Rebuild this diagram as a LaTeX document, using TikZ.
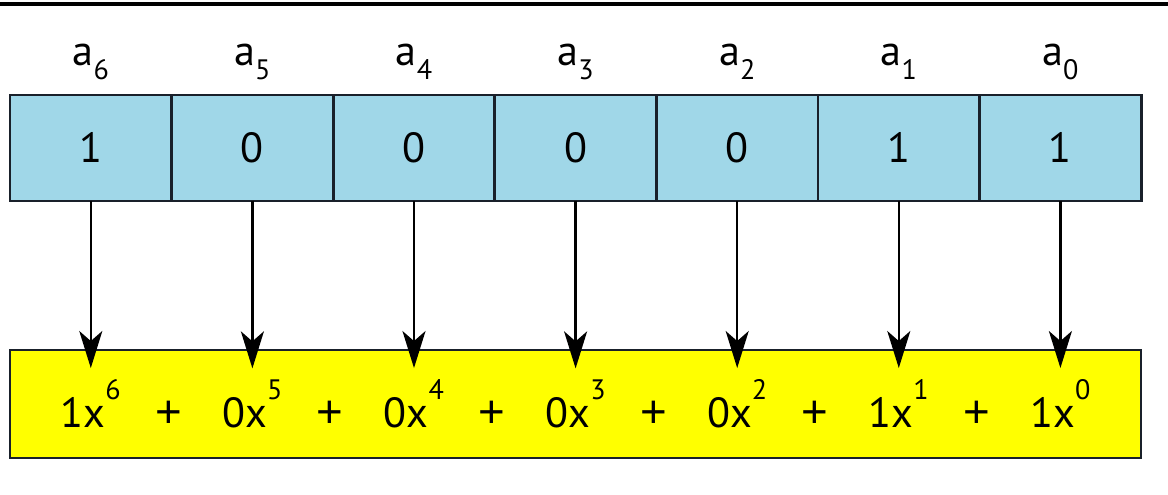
\documentclass[tikz,border=0pt]{standalone}
\usepackage{xcolor}
\usepackage{fontspec}
\setmainfont{PT Sans}
\newfontfamily\plusfont{Liberation Sans}
\usepackage{tikz}
\usetikzlibrary{arrows.meta, positioning}
\definecolor{cellblue}{RGB}{160,215,232}
\definecolor{polyyellow}{RGB}{255,255,0}
\definecolor{edgedark}{RGB}{25,32,42}
\newcommand{\lowidx}[1]{\raisebox{-0.32em}{\fontsize{8}{9}\selectfont #1}}
\newcommand{\highidx}[1]{\raisebox{0.68em}{\fontsize{8}{9}\selectfont #1}}

\begin{document}
\begin{tikzpicture}[>={Stealth[length=3.7mm, width=2.3mm, inset=1mm]},
    font=\fontsize{12}{14}\selectfont,
    bitcell/.style={draw=edgedark, fill=cellblue, line width=0.8pt, minimum width=1.616cm, minimum height=1.06cm, inner sep=0pt, outer sep=0pt},
    coef/.style={anchor=base},
    plus/.style={anchor=base, font=\plusfont\fontsize{13}{15}\selectfont},
    term/.style={anchor=base, inner xsep=0pt, inner ysep=3pt}]
    \useasboundingbox (0,0) rectangle (11.68,-4.95);

    % Top rule
    \draw[line width=1pt] (0,-0.04) -- (11.68,-0.04);

    % Bit cells
    \node[bitcell] (b6) at (0.908,-1.48) {1};
    \node[bitcell, right=0pt of b6] (b5) {0};
    \node[bitcell, right=0pt of b5] (b4) {0};
    \node[bitcell, right=0pt of b4] (b3) {0};
    \node[bitcell, right=0pt of b3] (b2) {0};
    \node[bitcell, right=0pt of b2] (b1) {1};
    \node[bitcell, right=0pt of b1] (b0) {1};

    % Coefficient labels
    \node[coef] (a6) at (b6 |- 0,-0.66) {a\lowidx{6}};
    \node[coef] (a5) at (b5 |- 0,-0.66) {a\lowidx{5}};
    \node[coef] (a4) at (b4 |- 0,-0.66) {a\lowidx{4}};
    \node[coef] (a3) at (b3 |- 0,-0.66) {a\lowidx{3}};
    \node[coef] (a2) at (b2 |- 0,-0.66) {a\lowidx{2}};
    \node[coef] (a1) at (b1 |- 0,-0.66) {a\lowidx{1}};
    \node[coef] (a0) at (b0 |- 0,-0.66) {a\lowidx{0}};

    % Polynomial box
    \node[draw=edgedark, fill=polyyellow, line width=0.8pt, minimum width=11.31cm, minimum height=1.08cm] (poly) at (5.755,-4.04) {};

    \node[term] (t6) at (b6 |- 0,-4.28) {1x\highidx{6}};
    \node[term] (t5) at (b5 |- 0,-4.28) {0x\highidx{5}};
    \node[term] (t4) at (b4 |- 0,-4.28) {0x\highidx{4}};
    \node[term] (t3) at (b3 |- 0,-4.28) {0x\highidx{3}};
    \node[term] (t2) at (b2 |- 0,-4.28) {0x\highidx{2}};
    \node[term] (t1) at (b1 |- 0,-4.28) {1x\highidx{1}};
    \node[term] (t0) at (b0 |- 0,-4.28) {1x\highidx{0}};

    \node[plus] (p6) at ([xshift=-0.3mm]b6.east |- t6.base) {+};
    \node[plus] (p5) at ([xshift=-0.3mm]b5.east |- t5.base) {+};
    \node[plus] (p4) at ([xshift=-0.3mm]b4.east |- t4.base) {+};
    \node[plus] (p3) at ([xshift=-0.3mm]b3.east |- t3.base) {+};
    \node[plus] (p2) at ([xshift=-0.3mm]b2.east |- t2.base) {+};
    \node[plus] (p1) at ([xshift=-0.3mm]b1.east |- t1.base) {+};

    % Arrows
    \draw[->, line width=0.7pt] (b6.south) -- (b6.south |- t6.north);
    \draw[->, line width=0.7pt] (b5.south) -- (b5.south |- t5.north);
    \draw[->, line width=0.7pt] (b4.south) -- (b4.south |- t4.north);
    \draw[->, line width=0.7pt] (b3.south) -- (b3.south |- t3.north);
    \draw[->, line width=0.7pt] (b2.south) -- (b2.south |- t2.north);
    \draw[->, line width=0.7pt] (b1.south) -- (b1.south |- t1.north);
    \draw[->, line width=0.7pt] (b0.south) -- (b0.south |- t0.north);
  \end{tikzpicture}
\end{document}
